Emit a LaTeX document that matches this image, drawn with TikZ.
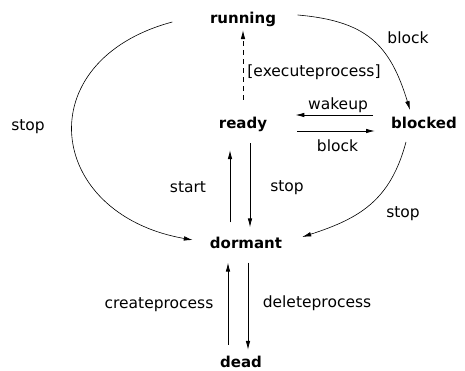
\documentclass[tikz,border=0pt]{standalone}
\usepackage{fontspec}
\setsansfont{DejaVu Sans}
\usetikzlibrary{arrows.meta}

\begin{document}
\begin{tikzpicture}[x=1pt,y=1pt,
  state/.style={font=\fontsize{15}{18}\selectfont\sffamily\bfseries, inner sep=0pt},
  lbl/.style={font=\fontsize{15.5}{18}\selectfont\sffamily, inner sep=0pt},
  trans/.style={line width=0.9pt, -{Latex[length=9pt,width=4.5pt]}},
  arc/.style={line width=0.6pt, -{Latex[length=9pt,width=4.5pt]}}]
\useasboundingbox (0,0) rectangle (465,371);
\node[state] (running) at (243,352) {running};
\node[state] (ready) at (243,247) {ready};
\node[state] (blocked) at (424,248) {blocked};
\node[state] (dormant) at (246,128.5) {dormant};
\node[state] (dead) at (241,9) {dead};
\draw[trans, dash pattern=on 5pt off 4pt, shorten <=16.5pt, shorten >=3.5pt] (ready.north) -- (running.south);
\draw[trans, shorten <=14pt, shorten >=18.5pt] ([xshift=-16pt]dormant.north) -- ([xshift=-13pt]ready.south);
\draw[trans, shorten <=11.5pt, shorten >=9pt] ([xshift=7pt]ready.south) -- ([xshift=4pt]dormant.north);
\draw[trans, shorten <=11pt, shorten >=14pt] ([xshift=-13pt]dead.north) -- ([xshift=-18pt]dormant.south);
\draw[trans, shorten <=14pt, shorten >=6pt] ([xshift=2pt]dormant.south) -- ([xshift=7pt]dead.north);
\draw[trans, shorten <=18pt, shorten >=28pt] ([yshift=8pt]blocked.west) -- ([yshift=9pt]ready.east);
\draw[trans, shorten <=30pt, shorten >=16pt] ([yshift=-7pt]ready.east) -- ([yshift=-8pt]blocked.west);
\draw[arc] ([xshift=-37.5pt,yshift=-3pt]running.west) to [out=195, in=170, looseness=1.75] ([xshift=-17pt,yshift=2.5pt]dormant.west);
\draw[arc] ([xshift=21.5pt,yshift=4pt]running.east) to [out=-5, in=107, looseness=1.2] ([xshift=-14pt,yshift=7pt]blocked.north);
\draw[arc] ([xshift=-18pt,yshift=-13pt]blocked.south) to [out=-105, in=18, looseness=1.1] ([xshift=20pt,yshift=5.5pt]dormant.east);
\node[lbl] (stopl) at (28,244) {stop};
\node[lbl] (blocktr) at (408,333.5) {block};
\node[lbl] (exec) at (314,299) {[executeprocess]};
\node[lbl] (wakeup) at (338,266) {wakeup};
\node[lbl] (blockm) at (337.5,225) {block};
\node[lbl] (start) at (188,183.5) {start};
\node[lbl] (stopm) at (287,183) {stop};
\node[lbl] (stopr) at (403,157) {stop};
\node[lbl] (create) at (159,66) {createprocess};
\node[lbl] (delete) at (317,68) {deleteprocess};
\end{tikzpicture}
\end{document}
